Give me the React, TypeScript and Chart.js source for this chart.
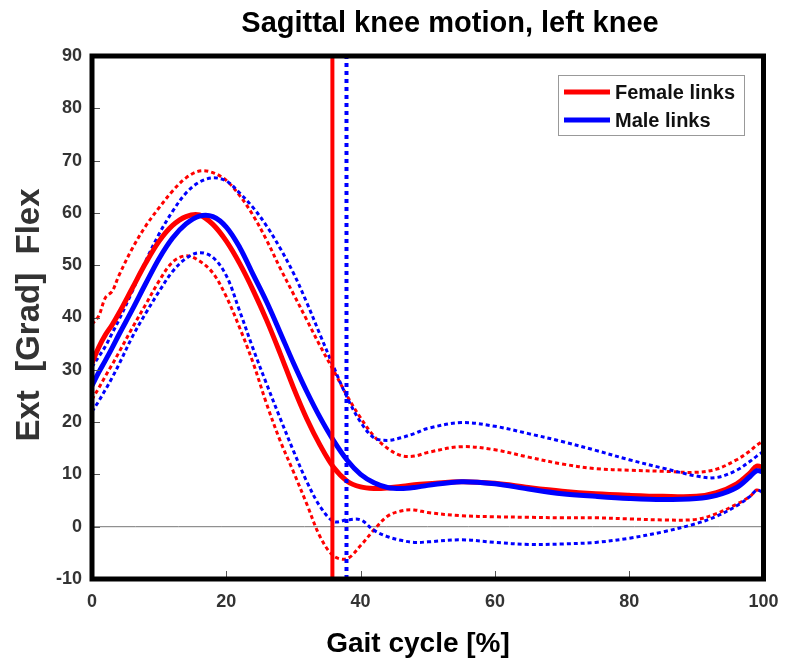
import React, { useEffect, useRef } from 'react';
import { Chart, registerables } from 'chart.js';
Chart.register(...registerables);

const gaitPct = [0, 1, 2, 3, 4, 6, 8, 10, 12, 14, 16, 18, 20, 22, 24, 26, 28, 30, 32, 34, 36, 38, 40, 42, 44, 46, 48, 50, 55, 60, 65, 70, 75, 80, 85, 90, 93, 96, 98, 99, 100];

const femaleMean = [31.3, 34.3, 36.7, 38.6, 40.8, 45.6, 50.4, 54.6, 57.6, 59.3, 59.6, 57.8, 54.6, 50.3, 45.2, 39.5, 33.2, 26.6, 20.6, 15.5, 11.3, 8.7, 7.6, 7.3, 7.4, 7.7, 8.0, 8.2, 8.6, 8.3, 7.5, 6.8, 6.3, 6.0, 5.8, 5.8, 6.5, 8.2, 10.3, 11.6, 11.2];
const femaleUpper = [38.7, 40.3, 43.8, 45.0, 48.0, 53.2, 57.5, 61.0, 64.2, 66.7, 68.0, 67.7, 66.2, 63.3, 59.5, 54.8, 49.5, 44.5, 39.5, 34.5, 29.8, 25.0, 20.8, 17.3, 15.0, 13.6, 13.5, 14.2, 15.3, 14.7, 13.3, 12.0, 11.1, 10.8, 10.6, 10.4, 11.0, 12.8, 14.5, 15.6, 16.4];
const femaleLower = [24.3, 26.5, 28.8, 31.0, 33.3, 38.0, 42.5, 47.0, 50.6, 51.8, 50.8, 48.5, 44.0, 38.0, 31.3, 23.5, 16.5, 10.5, 4.3, -2.0, -5.6, -6.1, -3.6, -0.6, 2.0, 3.0, 3.2, 2.7, 2.1, 1.9, 1.8, 1.7, 1.7, 1.5, 1.3, 1.4, 2.5, 4.3, 5.8, 7.0, 6.3];

const maleMean = [27.0, 29.5, 31.8, 34.2, 36.7, 41.5, 46.5, 51.3, 55.2, 57.9, 59.4, 59.3, 57.3, 53.4, 48.2, 43.0, 37.2, 31.3, 25.8, 20.8, 16.4, 12.7, 10.0, 8.4, 7.5, 7.3, 7.5, 7.9, 8.6, 8.2, 7.2, 6.3, 5.8, 5.4, 5.2, 5.4, 6.0, 7.5, 9.6, 10.7, 10.4];
const maleUpper = [30.5, 32.5, 34.5, 37.0, 39.5, 45.0, 50.8, 56.0, 60.3, 63.8, 65.9, 66.7, 66.1, 63.8, 61.0, 57.5, 53.3, 48.5, 42.8, 36.6, 30.5, 24.7, 20.0, 17.0, 16.5, 17.0, 17.8, 18.8, 19.9, 19.2, 17.8, 16.3, 14.6, 12.8, 11.2, 9.7, 9.4, 10.8, 12.5, 13.5, 14.4];
const maleLower = [22.0, 24.0, 26.2, 28.5, 31.0, 36.3, 40.8, 45.0, 48.8, 51.3, 52.4, 51.5, 48.0, 41.2, 34.0, 27.3, 20.8, 14.5, 8.6, 3.8, 1.0, 1.3, 1.3, -0.7, -1.9, -2.6, -3.0, -2.9, -2.5, -3.0, -3.4, -3.3, -3.0, -2.2, -1.0, 0.6, 2.0, 4.0, 5.8, 7.0, 6.5];

const femaleToeOff = 35.8;
const maleToeOff = 37.9;

const xTicks = [0, 20, 40, 60, 80, 100];
const yTicks = [-10, 0, 10, 20, 30, 40, 50, 60, 70, 80, 90];
const legendLabels = ['Female links', 'Male links'];

const RED = '#ff0000';
const BLUE = '#0000ff';
const FONT = "'Liberation Sans', Arial, Helvetica, sans-serif";

function pts(ys: number[]) {
  return gaitPct.map((x, i) => ({ x, y: ys[i] }));
}
function vline(x: number) {
  return [{ x, y: yTicks[0] }, { x, y: yTicks[yTicks.length - 1] }];
}

const framePlugin = {
  id: 'frameDecor',
  afterDatasetsDraw(chart: any) {
    const { ctx, chartArea: a, scales } = chart;
    ctx.save();
    ctx.strokeStyle = '#555';
    ctx.lineWidth = 1;
    for (const v of yTicks) {
      const y = Math.round(scales.y.getPixelForValue(v)) + 0.5;
      ctx.beginPath();
      ctx.moveTo(a.left, y);
      ctx.lineTo(a.left + 8, y);
      ctx.stroke();
    }
    for (const v of xTicks) {
      const x = Math.round(scales.x.getPixelForValue(v)) + 0.5;
      ctx.beginPath();
      ctx.moveTo(x, a.bottom);
      ctx.lineTo(x, a.bottom - 8);
      ctx.stroke();
    }
    ctx.strokeStyle = '#000';
    ctx.lineWidth = 5;
    ctx.strokeRect(a.left, a.top, a.right - a.left, a.bottom - a.top);

    // legend
    ctx.fillStyle = '#fff';
    ctx.fillRect(558, 75, 186, 60);
    ctx.strokeStyle = '#999';
    ctx.lineWidth = 1;
    ctx.strokeRect(558.5, 75.5, 186, 60);
    const rows = [{ c: RED, y: 92 }, { c: BLUE, y: 120 }];
    rows.forEach((r, i) => {
      ctx.strokeStyle = r.c;
      ctx.lineWidth = 5;
      ctx.beginPath();
      ctx.moveTo(564, r.y);
      ctx.lineTo(610, r.y);
      ctx.stroke();
      ctx.fillStyle = '#111';
      ctx.font = `bold 20px ${FONT}`;
      ctx.textAlign = 'left';
      ctx.textBaseline = 'middle';
      ctx.fillText(legendLabels[i], 615, r.y + 1);
    });

    // titles
    ctx.fillStyle = '#000';
    ctx.textBaseline = 'alphabetic';
    ctx.textAlign = 'center';
    ctx.font = `bold 29px ${FONT}`;
    ctx.fillText('Sagittal knee motion, left knee', 450, 32);
    ctx.font = `bold 28px ${FONT}`;
    ctx.fillText('Gait cycle [%]', 418, 652);
    ctx.save();
    ctx.translate(39, 315);
    ctx.rotate(-Math.PI / 2);
    ctx.font = `bold 33px ${FONT}`;
    ctx.fillStyle = '#333';
    ctx.fillText('Ext  [Grad]  Flex', 0, 0);
    ctx.restore();
    ctx.restore();
  },
};

export default function App() {
  const ref = useRef<HTMLCanvasElement | null>(null);
  useEffect(() => {
    if (!ref.current) return;
    const dotted = { borderWidth: 3, borderDash: [4, 3], borderCapStyle: 'butt' };
    const chart = new Chart(ref.current, {
      type: 'line',
      data: {
        datasets: [
          { label: 'zero', data: [{ x: 0, y: 0 }, { x: 100, y: 0 }], borderColor: '#777', borderWidth: 1, order: 10 },
          { label: 'Female +SD', data: pts(femaleUpper), borderColor: RED, ...dotted, order: 6 },
          { label: 'Female -SD', data: pts(femaleLower), borderColor: RED, ...dotted, order: 6 },
          { label: 'Male +SD', data: pts(maleUpper), borderColor: BLUE, ...dotted, order: 5 },
          { label: 'Male -SD', data: pts(maleLower), borderColor: BLUE, ...dotted, order: 5 },
          { label: 'Female links', data: pts(femaleMean), borderColor: RED, borderWidth: 5, order: 3 },
          { label: 'Male links', data: pts(maleMean), borderColor: BLUE, borderWidth: 5, order: 2 },
          { label: 'Female toe-off', data: vline(femaleToeOff), borderColor: RED, borderWidth: 4, order: 1, tension: 0 },
          { label: 'Male toe-off', data: vline(maleToeOff), borderColor: BLUE, borderWidth: 4, borderDash: [4, 4], borderCapStyle: 'butt', order: 0, tension: 0 },
        ] as any,
      },
      options: {
        animation: false,
        responsive: false,
        maintainAspectRatio: false,
        events: [],
        elements: { point: { radius: 0 }, line: { tension: 0.35, fill: false } },
        layout: { padding: { top: 56, right: 21.5, left: 0, bottom: 0 } },
        plugins: { legend: { display: false }, tooltip: { enabled: false }, title: { display: false } },
        scales: {
          x: {
            type: 'linear',
            min: 0,
            max: 100,
            grid: { display: false, drawTicks: false },
            border: { display: false },
            afterFit: (s: any) => { s.height = 662 - 579; s.paddingLeft = 0; s.paddingRight = 0; },
            afterBuildTicks: (s: any) => { s.ticks = xTicks.map((v) => ({ value: v })); },
            ticks: { color: '#333', padding: 12, font: { family: FONT, size: 18, weight: 'bold' }, maxRotation: 0 },
          },
          y: {
            type: 'linear',
            min: -10,
            max: 90,
            grid: { display: false, drawTicks: false },
            border: { display: false },
            afterFit: (s: any) => { s.width = 92; s.paddingTop = 0; s.paddingBottom = 0; },
            afterBuildTicks: (s: any) => { s.ticks = yTicks.map((v) => ({ value: v })); },
            ticks: { color: '#333', padding: 10, font: { family: FONT, size: 18, weight: 'bold' } },
          },
        },
      } as any,
      plugins: [framePlugin],
    });
    return () => chart.destroy();
  }, []);
  return (
    <div style={{ position: 'absolute', left: 0, top: 0, width: 785, height: 662, background: '#fff' }}>
      <canvas ref={ref} width={785} height={662} style={{ display: 'block' }} />
    </div>
  );
}
